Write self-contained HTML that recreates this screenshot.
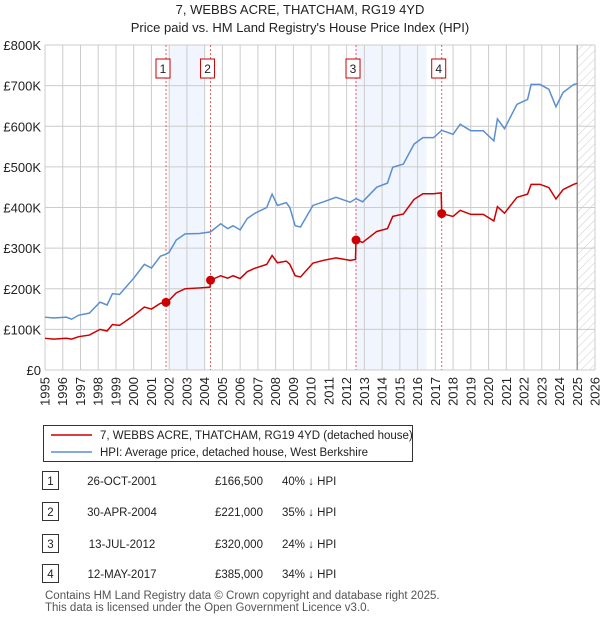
<!DOCTYPE html>
<html><head><meta charset="utf-8">
<style>
body{margin:0;background:#fff;font-family:"Liberation Sans",sans-serif;}
#wrap{position:relative;width:600px;height:620px;overflow:hidden;}
svg text{font-family:"Liberation Sans",sans-serif;}
</style></head>
<body>
<div id="wrap">
<svg id="chart" width="600" height="620"></svg>
</div>
<script>
const hpiYears=[1995.0,1995.5,1996.2,1996.5,1996.9,1997.5,1998.1,1998.5,1998.8,1999.2,2000.0,2000.6,2001.0,2001.5,2001.82,2002.0,2002.4,2002.9,2003.7,2004.33,2004.9,2005.3,2005.6,2006.0,2006.4,2006.8,2007.5,2007.8,2008.1,2008.6,2008.8,2009.1,2009.4,2010.1,2010.7,2011.4,2012.2,2012.53,2012.9,2013.7,2014.3,2014.6,2015.2,2015.8,2016.3,2016.9,2017.36,2018.0,2018.4,2019.0,2019.7,2020.3,2020.5,2020.9,2021.6,2022.2,2022.4,2022.9,2023.4,2023.8,2024.2,2024.8,2025.0];
const hpiValues=[130,128,130,125,135,140,167,160,188,186,226,260,251,280,285,290,320,335,336,340,360,348,355,345,373,385,400,433,405,412,400,355,352,405,414,425,413,422,414,450,460,499,507,556,572,572,590,580,605,589,589,564,618,594,654,666,703,703,691,648,683,703,705];
const paidYears=[1995.0,1995.5,1996.2,1996.5,1996.9,1997.5,1998.1,1998.5,1998.8,1999.2,2000.0,2000.6,2001.0,2001.5,2001.82,2002.0,2002.4,2002.9,2003.7,2004.3,2004.33,2004.9,2005.3,2005.6,2006.0,2006.4,2006.8,2007.5,2007.8,2008.1,2008.6,2008.8,2009.1,2009.4,2010.1,2010.7,2011.4,2012.2,2012.5,2012.53,2012.9,2013.7,2014.3,2014.6,2015.2,2015.8,2016.3,2016.9,2017.33,2017.36,2018.0,2018.4,2019.0,2019.7,2020.3,2020.5,2020.9,2021.6,2022.2,2022.4,2022.9,2023.4,2023.8,2024.2,2024.8,2025.0];
const paidValues=[78,76,78,76,82,86,100,96,112,110,134,155,150,164,166.5,172,190,200,202,204,221,232,226,232,225,242,250,260,282,264,268,260,232,229,263,270,276,270,272,320,314,341,348,378,384,420,434,434,436,385,378,393,383,383,367,402,386,425,433,457,457,449,421,444,457,460];
const saleYears=[2001.82,2004.33,2012.53,2017.36];
const saleValues=[166.5,221,320,385];
const saleLabels=["1","2","3","4"];
const yTicks=[0,100,200,300,400,500,600,700,800];
const yTickLabels=["£0","£100K","£200K","£300K","£400K","£500K","£600K","£700K","£800K"];
const xTicks=[1995,1996,1997,1998,1999,2000,2001,2002,2003,2004,2005,2006,2007,2008,2009,2010,2011,2012,2013,2014,2015,2016,2017,2018,2019,2020,2021,2022,2023,2024,2025,2026];
const bands=[[2002.0,2004.0],[2012.5,2016.5]];

const NS="http://www.w3.org/2000/svg";
const svg=document.getElementById('chart');
const L=45,R=595,T=45,B=370;
const X=y=>L+(y-1995)/31*(R-L);
const Y=v=>B-v/800*(B-T);
function mk(tag,attrs,parent){const e=document.createElementNS(NS,tag);for(const k in attrs)e.setAttribute(k,attrs[k]);(parent||svg).appendChild(e);return e;}
function txt(s,attrs){const e=mk('text',attrs);e.textContent=s;return e;}

let t=txt("7, WEBBS ACRE, THATCHAM, RG19 4YD",{x:300,y:14,'text-anchor':'middle','font-size':13,fill:'#222'});

t=txt("Price paid vs. HM Land Registry's House Price Index (HPI)",{x:300,y:32,'text-anchor':'middle','font-size':13,fill:'#222'});


const defs=mk('defs',{});
const pat=mk('pattern',{id:'hatch',width:6,height:6,patternUnits:'userSpaceOnUse',patternTransform:'rotate(45)'},defs);
mk('line',{x1:0,y1:0,x2:0,y2:6,stroke:'#ccc','stroke-width':1},pat);

bands.forEach(b=>{const r=mk('rect',{x:X(b[0]),y:T,width:X(b[1])-X(b[0]),height:B-T,fill:'#eef3fc',opacity:0.8});
});
let h=mk('rect',{x:X(2025),y:T,width:R-X(2025),height:B-T,fill:'url(#hatch)'});


yTicks.forEach((v,i)=>{const l=mk('line',{x1:L,x2:R,y1:Y(v),y2:Y(v),stroke:'#ccc','stroke-width':1});

const tt=txt(yTickLabels[i],{x:L-4,y:Y(v)+5,'text-anchor':'end','font-size':13,fill:'#222'});
});
xTicks.forEach(yr=>{const l=mk('line',{x1:X(yr),x2:X(yr),y1:T,y2:B,stroke:'#ccc','stroke-width':1});

const xx=X(yr)+4.5,yy=377;
const tt=txt(String(yr),{x:xx,y:yy,'text-anchor':'end','font-size':13,fill:'#222',transform:'rotate(-90 '+xx+' '+yy+')'});
});
let vl=mk('line',{x1:X(2025),x2:X(2025),y1:T,y2:B,stroke:'#999','stroke-width':1.5});


saleYears.forEach((yr,i)=>{const l=mk('line',{x1:X(yr),x2:X(yr),y1:T,y2:B,stroke:'#e06060','stroke-width':1,'stroke-dasharray':'2,2'});

const bx=mk('rect',{x:X(yr)-10,y:59,width:14,height:19,fill:'#fff',stroke:'#c00','stroke-width':1});

const tt=txt(saleLabels[i],{x:X(yr)-3,y:73,'text-anchor':'middle','font-size':12,fill:'#222'});
});

let p=mk('polyline',{points:hpiYears.map((yr,i)=>X(yr)+','+Y(hpiValues[i])).join(' '),fill:'none',stroke:'#5b8fd0','stroke-width':1.5});

p=mk('polyline',{points:paidYears.map((yr,i)=>X(yr)+','+Y(paidValues[i])).join(' '),fill:'none',stroke:'#cc0000','stroke-width':1.5});

saleYears.forEach((yr,i)=>{const c=mk('circle',{cx:X(yr),cy:Y(saleValues[i]),r:4.5,fill:'#cc0000'});
});

let lg=mk('rect',{x:43.5,y:425.5,width:369,height:36,fill:'#fff',stroke:'#333','stroke-width':1});

let ll=mk('line',{x1:51,x2:92,y1:435,y2:435,stroke:'#cc0000','stroke-width':1.5});

t=txt("7, WEBBS ACRE, THATCHAM, RG19 4YD (detached house)",{x:100,y:439,'font-size':11.5,fill:'#222'});

ll=mk('line',{x1:51,x2:92,y1:452,y2:452,stroke:'#5b8fd0','stroke-width':1.5});

t=txt("HPI: Average price, detached house, West Berkshire",{x:100,y:456,'font-size':11.5,fill:'#222'});


const rowDates=["26-OCT-2001","30-APR-2004","13-JUL-2012","12-MAY-2017"];
const rowPrices=["£166,500","£221,000","£320,000","£385,000"];
const rowHpi=["40% \u2193 HPI","35% \u2193 HPI","24% \u2193 HPI","34% \u2193 HPI"];
const rowY=[481,512,544,574];
rowY.forEach((ry,i)=>{
 const b=mk('rect',{x:42.5,y:ry-9.5,width:16,height:18,fill:'#fff',stroke:'#333','stroke-width':1});
 
 let e=txt(saleLabels[i],{x:50.5,y:ry+4,'text-anchor':'middle','font-size':11.5,fill:'#222'});
 
 e=txt(rowDates[i],{x:122,y:ry+4,'text-anchor':'middle','font-size':11.5,fill:'#222'});
 
 e=txt(rowPrices[i],{x:215,y:ry+4,'font-size':11.5,fill:'#222'});
 
 e=txt(rowHpi[i],{x:282,y:ry+4,'font-size':11.5,fill:'#222'});
 
});
t=txt("Contains HM Land Registry data \u00a9 Crown copyright and database right 2025.",{x:45,y:599,'font-size':11.5,fill:'#555'});

t=txt("This data is licensed under the Open Government Licence v3.0.",{x:45,y:611,'font-size':11.5,fill:'#555'});

</script>
</body></html>
